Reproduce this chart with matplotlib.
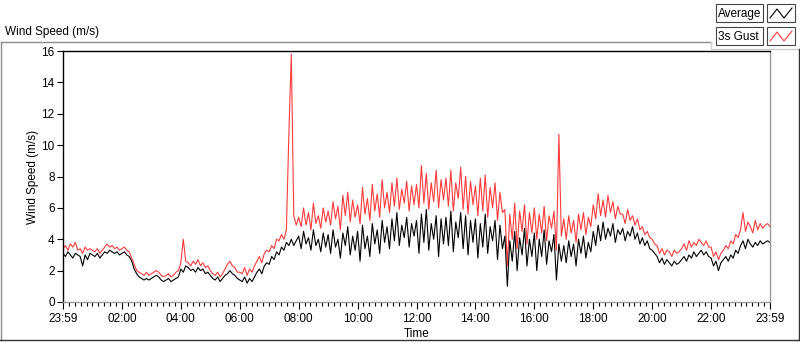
import numpy as np
import matplotlib
matplotlib.use("Agg")
import matplotlib.pyplot as plt
from matplotlib.lines import Line2D
from matplotlib.patches import Rectangle

plt.rcParams['font.family'] = ['Liberation Sans', 'DejaVu Sans']

# 5 minute samples, one row per hour (00:00 .. 23:55) + end point
avg_speed = [
    3.1, 2.9, 3.2, 3.0, 2.8, 3.1, 3.0, 2.9, 2.3, 3.0, 2.7, 3.1,
    3.0, 2.9, 3.1, 2.8, 3.0, 3.2, 3.1, 3.3, 3.2, 3.1, 3.2, 3.0,
    3.1, 3.2, 3.0, 2.9, 2.6, 2.1, 1.8, 1.6, 1.5, 1.4, 1.5, 1.4,
    1.5, 1.6, 1.7, 1.6, 1.4, 1.3, 1.4, 1.5, 1.3, 1.4, 1.5, 1.6,
    2.1, 1.9, 2.3, 2.2, 2.0, 2.1, 1.9, 2.2, 2.0, 2.1, 1.8, 1.9,
    1.7, 1.5, 1.4, 1.6, 1.3, 1.5, 1.7, 1.8, 2.0, 1.8, 1.7, 1.5,
    1.4, 1.3, 1.6, 1.2, 1.5, 1.3, 1.6, 1.9, 2.1, 1.8, 2.3, 2.5,
    2.4, 2.9, 2.7, 3.2, 3.0, 3.5, 3.3, 3.8, 3.6, 4.0, 3.6, 3.9,
    4.2, 3.4, 4.5, 3.7, 4.1, 3.3, 4.6, 3.6, 4.0, 3.2, 4.4, 3.5,
    4.3, 3.1, 4.6, 3.5, 4.0, 2.8, 4.4, 3.6, 4.8, 3.0, 4.2, 3.3,
    4.5, 2.6, 4.9, 3.4, 4.2, 2.9, 5.0, 3.7, 4.6, 3.1, 5.2, 3.8,
    4.8, 3.4, 5.3, 3.9, 5.7, 3.6, 4.9, 4.1, 5.4, 3.5, 5.0, 4.2,
    5.2, 3.1, 5.6, 3.8, 5.9, 3.3, 5.0, 4.0, 5.5, 2.9, 5.3, 3.7,
    5.4, 3.6, 5.8, 3.2, 5.1, 4.1, 5.7, 3.4, 5.5, 3.0, 5.2, 3.8,
    5.3, 2.8, 5.0, 3.5, 5.6, 3.1, 4.8, 3.9, 5.2, 2.7, 4.9, 3.4,
    4.2, 1.0, 3.9, 2.6, 4.5, 2.0, 4.1, 3.0, 4.7, 2.3, 4.0, 2.9,
    4.4, 2.0, 4.0, 2.9, 4.6, 2.4, 3.9, 3.2, 4.3, 1.4, 3.7, 2.6,
    3.6, 2.5, 3.9, 2.9, 3.7, 2.3, 4.0, 3.1, 4.2, 2.8, 3.8, 3.2,
    4.5, 3.6, 4.9, 3.9, 5.1, 4.0, 4.7, 4.2, 5.0, 3.8, 4.6, 4.3,
    4.7, 3.9, 4.5, 4.2, 4.8, 4.0, 4.4, 3.7, 4.1, 3.6, 3.9, 3.4,
    3.3, 3.1, 2.9, 2.5, 2.8, 2.4, 2.7, 2.5, 2.3, 2.6, 2.4, 2.5,
    2.7, 2.9, 2.6, 3.0, 2.8, 3.2, 2.9, 3.1, 3.3, 3.0, 3.2, 2.9,
    2.8, 2.3, 2.6, 2.0, 2.5, 2.7, 2.9, 2.6, 3.0, 2.8, 3.3, 3.1,
    3.6, 3.9, 3.4, 4.0, 3.7, 3.5, 3.8, 3.6, 3.9, 3.7, 3.8, 3.9,
    3.8,
]

gust_speed = [
    3.4, 3.6, 3.3, 3.7, 3.5, 3.8, 3.3, 3.4, 3.1, 3.5, 3.3, 3.4,
    3.3, 3.2, 3.4, 3.1, 3.3, 3.5, 3.7, 3.5, 3.6, 3.4, 3.5, 3.3,
    3.4, 3.5, 3.3, 3.2, 2.8, 2.4, 2.0, 1.9, 1.8, 1.7, 1.9, 1.7,
    1.8, 1.9, 2.0, 1.9, 1.7, 1.6, 1.7, 1.8, 1.6, 1.7, 1.9, 2.0,
    2.5, 4.0, 2.6, 2.5, 2.3, 2.6, 2.4, 2.7, 2.3, 2.5, 2.2, 2.3,
    2.0, 1.8, 1.7, 1.9, 1.6, 1.8, 2.1, 2.4, 2.6, 2.3, 2.2, 1.9,
    1.9, 1.8, 2.2, 1.7, 2.1, 1.9, 2.3, 2.6, 2.9, 2.5, 3.1, 3.3,
    3.2, 3.6, 3.4, 4.0, 3.9, 4.3, 4.0, 4.6, 10.7, 15.8, 5.5, 4.9,
    5.4, 4.8, 6.0, 4.9, 5.7, 4.6, 6.3, 5.0, 5.5, 4.7, 6.0, 5.1,
    5.8, 4.9, 6.4, 5.3, 6.1, 4.6, 6.8, 5.5, 7.0, 5.1, 6.5, 5.4,
    6.2, 5.0, 7.3, 5.6, 6.6, 5.2, 7.5, 5.8, 6.9, 5.4, 7.8, 6.0,
    7.0, 5.7, 7.6, 6.1, 7.9, 5.9, 7.2, 6.3, 7.7, 5.8, 7.4, 6.2,
    7.5, 6.0, 8.7, 6.3, 8.2, 5.9, 7.6, 6.4, 8.4, 6.0, 7.8, 6.5,
    7.9, 6.1, 8.4, 5.8, 7.6, 6.6, 8.6, 5.9, 8.0, 5.6, 7.7, 6.2,
    7.4, 5.5, 7.9, 5.8, 8.1, 5.4, 7.3, 6.0, 7.6, 5.2, 7.0, 5.7,
    5.9, 2.3, 5.6, 4.0, 6.3, 3.4, 5.8, 4.5, 6.2, 3.7, 5.7, 4.4,
    6.0, 4.0, 5.6, 4.4, 6.1, 3.9, 5.5, 4.7, 5.8, 3.3, 10.7, 4.2,
    5.3, 4.0, 5.5, 4.4, 5.2, 3.8, 5.6, 4.6, 5.7, 4.3, 5.4, 4.8,
    6.2, 5.3, 6.9, 5.5, 6.5, 5.4, 6.8, 5.7, 6.4, 5.3, 6.1, 5.6,
    5.6, 5.0, 5.9, 5.2, 5.5, 4.9, 5.3, 4.6, 4.8, 4.3, 4.5, 4.1,
    4.0, 3.7, 3.6, 3.1, 3.4, 3.0, 3.3, 3.2, 2.9, 3.3, 3.1, 3.2,
    3.4, 3.7, 3.3, 3.9, 3.5, 3.8, 3.6, 4.0, 3.8, 3.6, 3.9, 3.5,
    3.5, 2.9, 3.2, 2.7, 3.1, 3.3, 3.6, 3.4, 3.9, 3.7, 4.3, 4.1,
    4.6, 5.7, 4.5, 5.1, 4.8, 4.4, 5.2, 4.6, 5.0, 4.7, 4.9, 5.0,
    4.8,
]

tick_labels = ["23:59", "02:00", "04:00", "06:00", "08:00", "10:00", "12:00",
               "14:00", "16:00", "18:00", "20:00", "22:00", "23:59"]

minutes = np.arange(len(avg_speed)) * 5

W, H = 800, 342
fs = 8.5
fig = plt.figure(figsize=(W / 100, H / 100), dpi=100)
fig.patch.set_facecolor("white")

ax = fig.add_axes([63 / W, 40 / H, 707 / W, 251 / H])
ax.plot(minutes, gust_speed, color="#ff3b3b", lw=0.8)
ax.plot(minutes, avg_speed, color="black", lw=0.8)
ax.set_xlim(0, 1440)
ax.set_ylim(0, 16)
ax.set_yticks(np.arange(0, 17, 2))
ax.set_xticks(np.arange(0, 1441, 120))
ax.set_xticklabels(tick_labels)
ax.set_xticks(np.arange(0, 1441, 12), minor=True)
ax.tick_params(axis="both", labelsize=fs, colors="black", width=0.8)
ax.tick_params(axis="y", length=4, pad=2)
ax.tick_params(axis="x", which="major", length=5, pad=3)
ax.tick_params(axis="x", which="minor", length=3, width=0.8)
ax.spines["top"].set_color("black")
ax.spines["left"].set_color("black")
ax.spines["bottom"].set_color("#9a9a9a")
ax.spines["right"].set_color("#9a9a9a")
for s in ax.spines.values():
    s.set_linewidth(1.0)
ax.set_xlabel("Time", fontsize=fs, labelpad=2)
ax.set_ylabel("Wind Speed (m/s)", fontsize=fs, labelpad=2)

# panel outline
def px(x, y):
    return x / W, 1 - y / H

gray = "#8c8c8c"
for (x0, y0), (x1, y1), c in [((0.5, 42), (711, 42), gray),
                              ((711, 42), (711, 49), "#cfcfcf"),
                              ((711, 49), (799, 49), "#cfcfcf"),
                              ((0.5, 42), (0.5, 340), gray),
                              ((799, 49), (799, 340), "#333333"),
                              ((0, 340), (799, 340), "#333333")]:
    a, b = px(x0, y0)
    cc, d = px(x1, y1)
    fig.add_artist(Line2D([a, cc], [b, d], color=c, lw=1.0))

fig.text(5 / W, 1 - 32 / H, "Wind Speed (m/s)", fontsize=fs, va="center", ha="left")

# legend
for i, (name, col) in enumerate([("Average", "black"), ("3s Gust", "#ff3b3b")]):
    top = 4 + i * 23
    x0, y0 = px(716, top + 18)
    fig.add_artist(Rectangle((x0, y0), 47 / W, 18 / H, transform=fig.transFigure,
                             facecolor="white", edgecolor="#444444", lw=0.8))
    fig.text(718 / W, 1 - (top + 9.5) / H, name, fontsize=fs, va="center", ha="left")
    x0, y0 = px(767, top + 18)
    fig.add_artist(Rectangle((x0, y0), 28 / W, 18 / H, transform=fig.transFigure,
                             facecolor="white", edgecolor="#444444", lw=0.8))
    xs = [770, 777, 784, 792]
    ys = [top + 14, top + 5, top + 14, top + 4]
    fig.add_artist(Line2D([x / W for x in xs], [1 - y / H for y in ys], color=col, lw=0.8))

plt.savefig("out.png", dpi=100, facecolor="white")
